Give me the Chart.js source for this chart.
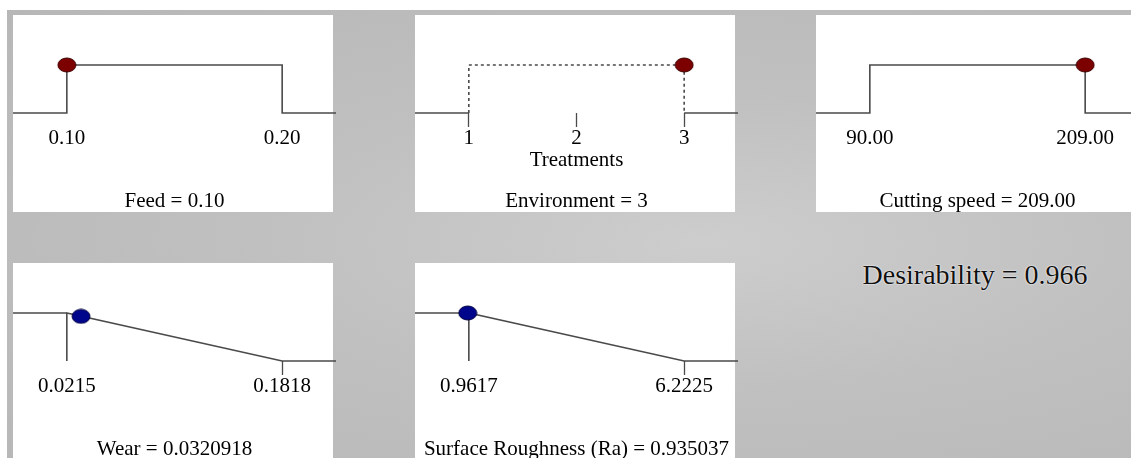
<!DOCTYPE html>
<html>
<head>
<meta charset="utf-8">
<script src="https://cdn.jsdelivr.net/npm/chart.js"></script>
<style>
    body { margin: 0; width: 1131px; height: 458px; overflow: hidden; background: #fff; position: relative; }
    #fondo {
        position: absolute; left: 7px; top: 10px; width: 1124px; height: 448px;
        background: radial-gradient(ellipse at 62% 52%, #cdcdcd 0%, #c0c0c0 45%, #b7b7b7 100%);
    }
    .panel { position: absolute; background: #fff; }
    canvas { position: absolute; }
    #desir {
        position: absolute; left: 852px; top: 259px; width: 246px; text-align: center;
        font: 28px "Liberation Serif", "Times New Roman", serif; color: #111;
        text-shadow: 0 0 2px #fff, 0 0 1px #fff;
    }
</style>
</head>
<body>
<div id="fondo"></div>
<div class="panel" style="left:13px;top:15px;width:320px;height:197px"></div>
<div class="panel" style="left:415px;top:15px;width:320px;height:197px"></div>
<div class="panel" style="left:816px;top:15px;width:315px;height:197px"></div>
<div class="panel" style="left:13px;top:263px;width:320px;height:195px"></div>
<div class="panel" style="left:415px;top:263px;width:320px;height:195px"></div>

<canvas id="cFeed"  width="323" height="197" style="left:13px;top:15px"></canvas>
<canvas id="cEnv"   width="323" height="197" style="left:415px;top:15px"></canvas>
<canvas id="cSpeed" width="323" height="197" style="left:816px;top:15px"></canvas>
<canvas id="cWear"  width="323" height="197" style="left:13px;top:263px"></canvas>
<canvas id="cRa"    width="323" height="197" style="left:415px;top:263px"></canvas>
<div id="desir"></div>

<script>
// DATOS ////////////////////////////////////////////////////
// Factores (limites y valor optimo)
const feedRange = [0.10, 0.20];
const feedValue = 0.10;
const feedTicks = ['0.10', '0.20'];

const envLevels = [1, 2, 3];
const envValue = 3;
const envTicks = ['1', '2', '3'];
const envAxisName = 'Treatments';

const speedRange = [90.00, 209.00];
const speedValue = 209.00;
const speedTicks = ['90.00', '209.00'];

// Respuestas (minimizar)
const wearRange = [0.0215, 0.1818];
const wearValue = 0.0320918;
const wearDesir = 0.93;
const wearTicks = ['0.0215', '0.1818'];

const raRange = [0.9617, 6.2225];
const raValue = 0.935037;
const raDesir = 1;
const raTicks = ['0.9617', '6.2225'];

const desirability = 0.966;

// Estilos
const lineColor = '#4a4a4a';
const fontFam = '"Liberation Serif", "Times New Roman", serif';

// Punto eliptico (rojo para factores, azul para respuestas)
function makeDot(fill, stroke) {
    let c = document.createElement('canvas');
    c.width = 20; c.height = 16;
    let g = c.getContext('2d');
    g.beginPath();
    g.ellipse(10, 8, 9, 7, 0, 0, Math.PI * 2);
    g.fillStyle = fill;
    g.fill();
    g.lineWidth = 1;
    g.strokeStyle = stroke;
    g.stroke();
    return c;
}
const redDot = makeDot('#7d0000', '#3d0000');
const blueDot = makeDot('#00068c', '#000040');

function lineDs(points, dashed) {
    return {
        data: points,
        order: 1,
        borderColor: lineColor,
        borderWidth: 1.6,
        borderDash: dashed ? [3, 3] : [],
        pointRadius: 0,
        tension: 0,
        clip: false
    };
}

function dotDs(x, y, img) {
    return {
        data: [{x: x, y: y}],
        order: 0,
        showLine: false,
        pointStyle: img,
        pointRadius: 8,
        clip: false
    };
}

// Crea un panel: rango x a partir de los limites
function makePanel(id, lo, hi, tickVals, tickLabels, tickMarks, title, datasets) {
    const pad = (hi - lo) * 0.25;
    return new Chart(document.getElementById(id), {
        type: 'line',
        data: { datasets: datasets },
        options: {
            responsive: false,
            animation: false,
            events: [],
            layout: { autoPadding: false, padding: { top: 50, left: 0, right: 0, bottom: 0 } },
            plugins: { legend: { display: false }, tooltip: { enabled: false } },
            scales: {
                x: {
                    type: 'linear',
                    min: lo - pad,
                    max: hi + pad,
                    afterBuildTicks: s => { s.ticks = tickVals.map(v => ({ value: v })); },
                    afterFit: s => { s.height = 99; },
                    border: { display: false },
                    grid: {
                        drawOnChartArea: false,
                        drawTicks: true,
                        tickLength: 14,
                        tickWidth: 1.3,
                        tickColor: ctx => (ctx.tick && tickMarks.includes(ctx.tick.value)) ? lineColor : 'rgba(0,0,0,0)'
                    },
                    ticks: {
                        autoSkip: false,
                        maxRotation: 0,
                        padding: 0,
                        color: '#000',
                        font: { family: fontFam, size: 21, lineHeight: 1.05 },
                        callback: (v, i) => tickLabels[i]
                    },
                    title: {
                        display: true,
                        text: title,
                        color: '#000',
                        padding: { top: 0, bottom: 0 },
                        font: { family: fontFam, size: 21, lineHeight: 1 }
                    }
                },
                y: { min: 0, max: 1, display: false }
            }
        }
    });
}

// Feed
let fPad = (feedRange[1] - feedRange[0]) * 0.25;
makePanel('cFeed', feedRange[0], feedRange[1], feedRange, feedTicks, [],
    'Feed = ' + feedValue.toFixed(2), [
    lineDs([
        {x: feedRange[0] - fPad, y: 0}, {x: feedRange[0], y: 0}, {x: feedRange[0], y: 1},
        {x: feedRange[1], y: 1}, {x: feedRange[1], y: 0}, {x: feedRange[1] + fPad, y: 0}
    ]),
    dotDs(feedValue, 1, redDot)
]);

// Environment (factor categorico)
let eLo = envLevels[0], eHi = envLevels[envLevels.length - 1];
let ePad = (eHi - eLo) * 0.25;
let envLabels = envTicks.map((t, i) => i === 1 ? [t, envAxisName] : t);
makePanel('cEnv', eLo, eHi, envLevels, envLabels, envLevels,
    'Environment = ' + envValue, [
    lineDs([{x: eLo - ePad, y: 0}, {x: eLo, y: 0}]),
    lineDs([{x: eLo, y: 0}, {x: eLo, y: 1}, {x: eHi, y: 1}, {x: eHi, y: 0}], true),
    lineDs([{x: eHi, y: 0}, {x: eHi + ePad, y: 0}]),
    dotDs(envValue, 1, redDot)
]);

// Cutting speed
let sPad = (speedRange[1] - speedRange[0]) * 0.25;
makePanel('cSpeed', speedRange[0], speedRange[1], speedRange, speedTicks, [],
    'Cutting speed = ' + speedValue.toFixed(2), [
    lineDs([
        {x: speedRange[0] - sPad, y: 0}, {x: speedRange[0], y: 0}, {x: speedRange[0], y: 1},
        {x: speedRange[1], y: 1}, {x: speedRange[1], y: 0}, {x: speedRange[1] + sPad, y: 0}
    ]),
    dotDs(speedValue, 1, redDot)
]);

// Respuestas: rampa de minimizar
function rampPoints(r) {
    let p = (r[1] - r[0]) * 0.25;
    return [
        {x: r[0] - p, y: 1}, {x: r[0], y: 1}, {x: r[0], y: 0}, {x: r[0], y: 1},
        {x: r[1], y: 0}, {x: r[1] + p, y: 0}
    ];
}

makePanel('cWear', wearRange[0], wearRange[1], wearRange, wearTicks, [wearRange[1]],
    'Wear = ' + wearValue, [
    lineDs(rampPoints(wearRange)),
    dotDs(wearValue, wearDesir, blueDot)
]);

makePanel('cRa', raRange[0], raRange[1], raRange, raTicks, [raRange[1]],
    'Surface Roughness (Ra) = ' + raValue, [
    lineDs(rampPoints(raRange)),
    dotDs(raValue, raDesir, blueDot)
]);

// Deseabilidad global
document.getElementById('desir').textContent = 'Desirability = ' + desirability;
</script>
</body>
</html>
